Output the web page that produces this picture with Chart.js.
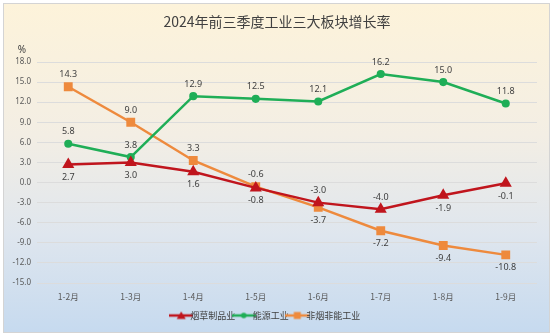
<!DOCTYPE html>
<html>
<head>
<meta charset="utf-8">
<script src="https://cdn.jsdelivr.net/npm/chart.js@4.4.1/dist/chart.umd.min.js"></script>
<style>
  html, body { margin: 0; padding: 0; background: #fff; }
  .frame {
    position: absolute; left: 3px; top: 3px; width: 545px; height: 328px;
    border: 1px solid #d4d4d4;
    background: linear-gradient(to bottom, #fdf3da 0%, #f3eee4 40%, #dfe6ee 70%, #c6daef 100%);
  }
  #wrap { position: absolute; left: 0; top: 0; width: 554px; height: 335px; }
</style>
</head>
<body>
<div class="frame"></div>
<div id="wrap"><canvas id="myChart" width="554" height="335"></canvas></div>
<script>
// Bring in data
const months = ["1-2月", "1-3月", "1-4月", "1-5月", "1-6月", "1-7月", "1-8月", "1-9月"];
const tobacco = [2.7, 3.0, 1.6, -0.8, -3.0, -4.0, -1.9, -0.1];
const energy = [5.8, 3.8, 12.9, 12.5, 12.1, 16.2, 15.0, 11.8];
const other = [14.3, 9.0, 3.3, -0.6, -3.7, -7.2, -9.4, -10.8];
const yTicks = [18, 15, 12, 9, 6, 3, 0, -3, -6, -9, -12, -15];

const RED = "#c0151d";
const GREEN = "#1fae57";
const ORANGE = "#ee8a3d";
const CJK = "'Noto Sans CJK SC', 'Noto Sans', sans-serif";

// legend swatch: short line with marker in the middle
function swatch(color, shape) {
  const c = document.createElement("canvas");
  c.width = 24; c.height = 10;
  const g = c.getContext("2d");
  g.strokeStyle = color; g.fillStyle = color; g.lineWidth = 2.5;
  g.beginPath(); g.moveTo(0, 5); g.lineTo(24, 5); g.stroke();
  g.beginPath();
  if (shape === "tri") { g.moveTo(12, 1); g.lineTo(16.5, 8.5); g.lineTo(7.5, 8.5); g.closePath(); }
  else if (shape === "rect") { g.rect(8.5, 1.5, 7, 7); }
  else { g.arc(12, 5, 2.8, 0, Math.PI * 2); }
  g.fill();
  return c;
}

// value labels, above or below each point
const valueLabels = {
  id: "valueLabels",
  afterDatasetsDraw(chart) {
    const ctx = chart.ctx;
    ctx.save();
    ctx.font = "9px 'Noto Sans', sans-serif";
    ctx.fillStyle = "#404040";
    ctx.textAlign = "center";
    ctx.textBaseline = "middle";
    chart.data.datasets.forEach((ds, i) => {
      chart.getDatasetMeta(i).data.forEach((pt, j) => {
        const up = ds.labelSide[j] === "up";
        ctx.fillText(ds.data[j].toFixed(1), pt.x, pt.y + (up ? -12 : 13));
      });
    });
    ctx.font = "10px 'Noto Sans', sans-serif";
    ctx.fillText("%", 22, 50);
    ctx.restore();
  }
};

new Chart(document.getElementById("myChart").getContext("2d"), {
  type: "line",
  data: {
    labels: months,
    datasets: [
      {
        label: "烟草制品业", data: tobacco, borderColor: RED, backgroundColor: RED,
        pointStyle: "triangle", pointRadius: 4.5, borderWidth: 2.5,
        labelSide: ["dn", "dn", "dn", "dn", "up", "up", "dn", "dn"], legendImg: swatch(RED, "tri")
      },
      {
        label: "能源工业", data: energy, borderColor: GREEN, backgroundColor: GREEN,
        pointStyle: "circle", pointRadius: 2.8, borderWidth: 2.5,
        labelSide: ["up", "up", "up", "up", "up", "up", "up", "up"], legendImg: swatch(GREEN, "circle")
      },
      {
        label: "非烟非能工业", data: other, borderColor: ORANGE, backgroundColor: ORANGE,
        pointStyle: "rect", pointRadius: 4.5, borderWidth: 2.5,
        labelSide: ["up", "up", "up", "up", "dn", "dn", "dn", "dn"], legendImg: swatch(ORANGE, "rect")
      }
    ]
  },
  options: {
    responsive: false,
    animation: false,
    layout: { padding: { left: 0, right: 17, top: 62, bottom: 5 } },
    plugins: {
      title: { display: false },
      tooltip: { enabled: false },
      legend: {
        position: "bottom",
        labels: {
          usePointStyle: true,
          color: "#404040",
          font: { family: CJK, size: 9 },
          padding: 4,
          boxHeight: 10,
          generateLabels(chart) {
            return chart.data.datasets.map((ds, i) => ({
              text: ds.label, pointStyle: ds.legendImg, datasetIndex: i,
              fontColor: "#404040", lineWidth: 0, strokeStyle: "transparent", fillStyle: ds.borderColor
            }));
          }
        }
      }
    },
    scales: {
      x: {
        offset: true,
        grid: { display: false },
        border: { display: false },
        ticks: { color: "#595959", font: { family: CJK, size: 8.5 }, maxRotation: 0, padding: 1 },
        afterFit(scale) { scale.height = 24; }
      },
      y: {
        min: -15, max: 18,
        afterBuildTicks(scale) { scale.ticks = yTicks.map(v => ({ value: v })); },
        grid: { color: "#dcdcdc", lineWidth: 1, drawTicks: false },
        border: { display: false },
        ticks: {
          color: "#595959", font: { family: "'Noto Sans', sans-serif", size: 8 }, padding: 6,
          callback: v => v.toFixed(1)
        },
        afterFit(scale) { scale.width = 37; }
      }
    }
  },
  plugins: [valueLabels, {
    id: "topTitle",
    afterDraw(chart) {
      const ctx = chart.ctx;
      ctx.save();
      ctx.font = "14px " + CJK;
      ctx.fillStyle = "#404040";
      ctx.textAlign = "center";
      ctx.textBaseline = "middle";
      ctx.fillText("2024年前三季度工业三大板块增长率", 277, 22);
      ctx.restore();
    }
  }]
});
</script>
</body>
</html>
